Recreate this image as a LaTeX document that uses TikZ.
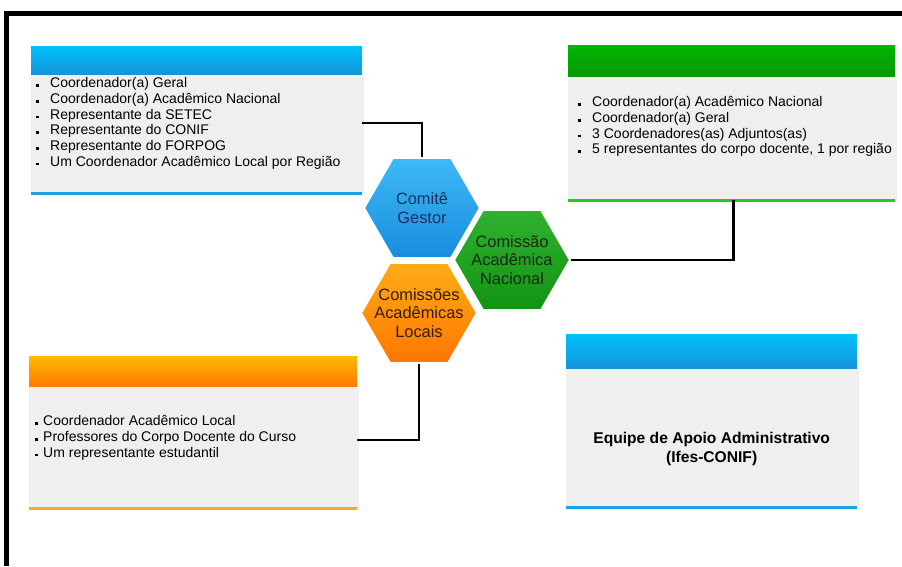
\documentclass[tikz,border=0pt]{standalone}
\usepackage{fontspec}
\setmainfont{Liberation Sans}
\usetikzlibrary{positioning,shapes.geometric,shadows}

\definecolor{boxgray}{RGB}{239,239,239}
\definecolor{hdblueA}{RGB}{0,192,252}
\definecolor{hdblueB}{RGB}{22,148,218}
\definecolor{hdgreenA}{RGB}{0,182,0}
\definecolor{hdgreenB}{RGB}{10,150,10}
\definecolor{hdorangeA}{RGB}{255,184,0}
\definecolor{hdorangeB}{RGB}{255,122,0}
\definecolor{lnblue}{RGB}{30,160,230}
\definecolor{lngreen}{RGB}{40,200,40}
\definecolor{lnorange}{RGB}{245,170,40}
\definecolor{txblue}{RGB}{28,48,92}
\definecolor{txgreen}{RGB}{22,40,22}
\definecolor{txorange}{RGB}{48,28,10}

\newcommand{\bul}[1][14pt]{\makebox[#1][l]{\rule[1pt]{2.6pt}{2.6pt}}}

\begin{document}
\begin{tikzpicture}[x=1pt,y=-1pt,
	body/.style={rectangle,fill=boxgray,inner sep=0,anchor=north west,
		drop shadow={shadow xshift=2pt,shadow yshift=-2pt,opacity=0.12}},
	head/.style={rectangle,inner sep=0,anchor=south west},
	bline/.style={line width=2.5pt},
	list/.style={inner sep=0,align=left,anchor=north west,
		font=\fontsize{14}{15.7}\selectfont},
	hex/.style={regular polygon,regular polygon sides=6,minimum size=116pt,
		inner sep=0,draw=white,line width=2pt},
	hextext/.style={inner sep=0,align=center,font=\fontsize{16.4}{18.5}\selectfont},
	conn/.style={line width=2.5pt}]
	\useasboundingbox (0,0) rectangle (902,566);
	\fill[white] (0,0) rectangle (902,566);
	\draw[line width=5pt] (6,566) -- (6,13.5) -- (902,13.5);

	\node[body,minimum width=331pt,minimum height=118pt] (b1) at (31,75) {};
	\node[head,minimum width=331pt,minimum height=28pt,top color=hdblueA,bottom color=hdblueB] (h1) at (b1.north west) {};
	\draw[bline,lnblue] (b1.south west) -- (b1.south east);
	\node[list,below right=2.5pt and 5pt of h1.south west] (l1) {\bul Coordenador(a) Geral\\
		\bul Coordenador(a) Acadêmico Nacional\\
		\bul Representante da SETEC\\
		\bul Representante do CONIF\\
		\bul Representante do FORPOG\\
		\bul Um Coordenador Acadêmico Local por Região};

	\node[body,minimum width=327pt,minimum height=123pt] (b2) at (568,77) {};
	\node[head,minimum width=327pt,minimum height=31pt,top color=hdgreenA,bottom color=hdgreenB] (h2) at (b2.north west) {};
	\draw[bline,lngreen] (b2.south west) -- (b2.south east);
	\node[list,below right=19.5pt and 10pt of h2.south west] (l2) {\bul Coordenador(a) Acadêmico Nacional\\
		\bul Coordenador(a) Geral\\
		\bul 3 Coordenadores(as) Adjuntos(as)\\
		\bul 5 representantes do corpo docente, 1 por região};

	\node[body,minimum width=328pt,minimum height=121pt] (b3) at (29,387) {};
	\node[head,minimum width=328pt,minimum height=30pt,top color=hdorangeA,bottom color=hdorangeB] (h3) at (b3.north west) {};
	\draw[bline,lnorange] (b3.south west) -- (b3.south east);
	\node[list,below right=28.5pt and 6pt of h3.south west] (l3) {\bul[8pt]Coordenador Acadêmico Local\\
		\bul[8pt]Professores do Corpo Docente do Curso\\
		\bul[8pt]Um representante estudantil};

	\node[body,minimum width=291pt,minimum height=138pt] (b4) at (566,369) {};
	\node[head,minimum width=291pt,minimum height=34pt,top color=hdblueA,bottom color=hdblueB] (h4) at (b4.north west) {};
	\draw[bline,lnblue] (b4.south west) -- (b4.south east);
	\node[inner sep=0,align=center,font=\bfseries\fontsize{15.6}{19}\selectfont] (eq) at ([yshift=-10.5pt]b4.center) {Equipe de Apoio Administrativo\\(Ifes-CONIF)};

	\node[hex,top color={rgb,255:red,62;green,186;blue,245},bottom color={rgb,255:red,24;green,140;blue,222},
		label={[hextext,text=txblue]center:Comitê\\Gestor}] (cg) at (422,208) {};
	\node[hex,top color={rgb,255:red,48;green,178;blue,48},bottom color={rgb,255:red,18;green,148;blue,18},
		label={[hextext,text=txgreen]center:Comissão\\Acadêmica\\Nacional}] (cn) at (512,260) {};
	\node[hex,top color={rgb,255:red,255;green,172;blue,22},bottom color={rgb,255:red,255;green,118;blue,0},
		label={[hextext,text=txorange]center:Comissões\\Acadêmicas\\Locais}] (cl) at (419,313) {};

	\draw[conn] ([yshift=11pt]b1.east) -| (cg.north);
	\draw[conn] ([xshift=2pt]b2.south) |- (cn.east);
	\draw[conn] (cl.south) |- ([yshift=7.5pt]b3.east);
\end{tikzpicture}
\end{document}
